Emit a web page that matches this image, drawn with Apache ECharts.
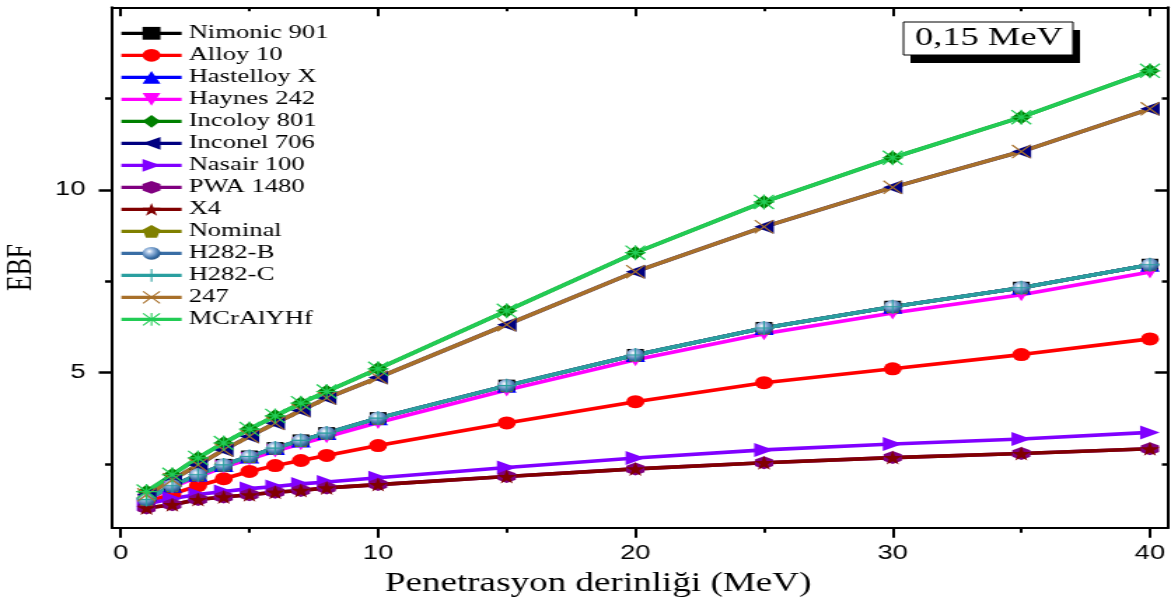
<!DOCTYPE html>
<html><head><meta charset="utf-8">
<script src="https://cdn.jsdelivr.net/npm/echarts@6/dist/echarts.min.js"></script>
<style>
html,body{margin:0;padding:0;background:#fff;overflow:hidden}
#wrap{width:1171px;height:605px;overflow:hidden;background:#fff}
#chart{width:836px;height:605px;transform:scaleX(1.40072);transform-origin:0 0}
</style></head><body><div id="wrap"><div id="chart"></div></div>
<script>
// ---- data ----
const xValues = [1, 2, 3, 4, 5, 6, 7, 8, 10, 15, 20, 25, 30, 35, 40];
const nimonic901  = [1.52, 1.90, 2.20, 2.47, 2.70, 2.93, 3.14, 3.34, 3.75, 4.64, 5.48, 6.22, 6.80, 7.32, 7.95];
const alloy10     = [1.46, 1.67, 1.90, 2.09, 2.29, 2.45, 2.59, 2.73, 3.00, 3.62, 4.20, 4.72, 5.10, 5.49, 5.92];
const hastelloyX  = [1.52, 1.90, 2.20, 2.47, 2.70, 2.93, 3.14, 3.34, 3.75, 4.64, 5.48, 6.22, 6.80, 7.32, 7.95];
const haynes242   = [1.50, 1.86, 2.15, 2.41, 2.63, 2.85, 3.05, 3.24, 3.63, 4.52, 5.35, 6.06, 6.63, 7.13, 7.75];
const incoloy801  = [1.74, 2.20, 2.66, 3.07, 3.45, 3.81, 4.16, 4.48, 5.10, 6.69, 8.28, 9.67, 10.88, 11.99, 13.26];
const inconel706  = [1.65, 2.06, 2.47, 2.88, 3.25, 3.61, 3.96, 4.30, 4.86, 6.31, 7.76, 8.99, 10.07, 11.05, 12.22];
const nasair100   = [1.40, 1.55, 1.66, 1.74, 1.82, 1.88, 1.95, 2.00, 2.12, 2.40, 2.66, 2.88, 3.04, 3.18, 3.36];
const pwa1480     = [1.29, 1.38, 1.52, 1.59, 1.65, 1.72, 1.77, 1.84, 1.93, 2.15, 2.36, 2.53, 2.67, 2.78, 2.91];
const x4          = [1.29, 1.38, 1.52, 1.59, 1.65, 1.72, 1.77, 1.84, 1.93, 2.15, 2.36, 2.53, 2.67, 2.78, 2.91];
const nominal     = [1.52, 1.90, 2.20, 2.47, 2.70, 2.93, 3.14, 3.34, 3.75, 4.64, 5.48, 6.22, 6.80, 7.32, 7.95];
const h282B       = [1.52, 1.90, 2.20, 2.47, 2.70, 2.93, 3.14, 3.34, 3.75, 4.64, 5.48, 6.22, 6.80, 7.32, 7.95];
const h282C       = [1.52, 1.90, 2.20, 2.47, 2.70, 2.93, 3.14, 3.34, 3.75, 4.64, 5.48, 6.22, 6.80, 7.32, 7.95];
const alloy247    = [1.65, 2.06, 2.47, 2.88, 3.25, 3.61, 3.96, 4.30, 4.86, 6.31, 7.76, 8.99, 10.07, 11.05, 12.22];
const mcralyhf    = [1.74, 2.20, 2.66, 3.07, 3.45, 3.81, 4.16, 4.48, 5.10, 6.69, 8.28, 9.67, 10.88, 11.99, 13.26];

const xMajorTicks = [0, 10, 20, 30, 40];
const xMinorTicks = [5, 15, 25, 35];
const yMajorTicks = [5, 10];
const yMinorTicks = [2.5, 7.5, 12.5];
const X_MIN = -0.34, X_MAX = 40.71, Y_MIN = 0.75, Y_MAX = 15;

// ---- symbols ----
const SYM = {
  down: 'path://M0,0 L10,0 L5,10 Z',
  left: 'path://M0,5 L10,0 L10,10 Z',
  right: 'path://M0,0 L10,5 L0,10 Z',
  hex: 'path://M5,0 L9.33,2.5 L9.33,7.5 L5,10 L0.67,7.5 L0.67,2.5 Z',
  star: 'path://M5,0 L6.18,3.62 L10,3.62 L6.91,5.86 L8.09,9.51 L5,7.27 L1.91,9.51 L3.09,5.86 L0,3.62 L3.82,3.62 Z',
  pent: 'path://M5,0 L10,3.8 L8.1,10 L1.9,10 L0,3.8 Z',
  plus: 'path://M4.6,0 L5.4,0 L5.4,4.6 L10,4.6 L10,5.4 L5.4,5.4 L5.4,10 L4.6,10 L4.6,5.4 L0,5.4 L0,4.6 L4.6,4.6 Z',
  cross: 'path://M0,0.6 L0.6,0 L5,4.4 L9.4,0 L10,0.6 L5.6,5 L10,9.4 L9.4,10 L5,5.6 L0.6,10 L0,9.4 L4.4,5 Z',
  aster: 'path://M4.6,0 L5.4,0 L5.4,10 L4.6,10 Z M0,4.6 L10,4.6 L10,5.4 L0,5.4 Z M0,0.6 L0.6,0 L10,9.4 L9.4,10 Z M0.6,10 L0,9.4 L9.4,0 L10,0.6 Z'
};

function ser(name, vals, color, symbol, size, itemColor) {
  return {
    name, type: 'line', xAxisIndex: 0, yAxisIndex: 0,
    data: xValues.map((x, i) => [x, vals[i]]),
    symbol, symbolSize: size, showAllSymbol: true,
    lineStyle: { color, width: 3.6 },
    itemStyle: { color: itemColor || color, borderWidth: 0 },
    emphasis: { disabled: true }
  };
}

const sphere = {
  type: 'radial', x: 0.38, y: 0.35, r: 0.7,
  colorStops: [
    { offset: 0, color: '#ffffff' },
    { offset: 0.3, color: '#9dbbe0' },
    { offset: 0.75, color: '#3a6ea5' },
    { offset: 1, color: '#24507f' }
  ]
};

const series = [
  ser('Nimonic 901', nimonic901, '#000000', 'rect', 12),
  ser('Alloy 10', alloy10, '#ff0000', 'circle', 13),
  ser('Hastelloy X', hastelloyX, '#0000ff', 'triangle', 14),
  ser('Haynes 242', haynes242, '#ff00ff', SYM.down, 13),
  ser('Incoloy 801', incoloy801, '#008000', 'diamond', 14),
  ser('Inconel 706', inconel706, '#000080', SYM.left, 14),
  ser('Nasair 100', nasair100, '#8000ff', SYM.right, 14),
  ser('PWA 1480', pwa1480, '#800080', SYM.hex, 13),
  ser('X4', x4, '#800000', SYM.star, 14),
  ser('Nominal', nominal, '#808000', SYM.pent, 13),
  ser('H282-B', h282B, '#3a6ea5', 'circle', 13, sphere),
  ser('H282-C', h282C, '#2a9fa0', SYM.plus, 14),
  ser('247', alloy247, '#a8702a', SYM.cross, 14),
  ser('MCrAlYHf', mcralyhf, '#22cc55', SYM.aster, 15)
];

const tickFont = { color: '#000', fontFamily: 'Liberation Sans, Arial, sans-serif', fontSize: 19.5 };

function xAx(position, ticks, len, inside, showLine, labels) {
  return {
    type: 'value', position, min: X_MIN, max: X_MAX,
    axisLine: { show: showLine, onZero: false, lineStyle: { color: '#000', width: 2.2 } },
    axisTick: { show: true, inside, length: len, customValues: ticks, lineStyle: { color: '#000', width: 2 } },
    axisLabel: labels ? Object.assign({ show: true, customValues: ticks, margin: 16 }, tickFont) : { show: false },
    splitLine: { show: false }
  };
}
function yAx(position, ticks, len, inside, showLine, labels) {
  return {
    type: 'value', position, min: Y_MIN, max: Y_MAX,
    axisLine: { show: showLine, onZero: false, lineStyle: { color: '#000', width: 2 } },
    axisTick: { show: true, inside, length: len, customValues: ticks, lineStyle: { color: '#000', width: 2.5 } },
    axisLabel: labels ? Object.assign({ show: true, customValues: ticks, margin: 19 }, tickFont) : { show: false },
    splitLine: { show: false }
  };
}

const xAxes = [
  xAx('bottom', xMajorTicks, 10, false, true, true),
  xAx('bottom', xMinorTicks, 5, false, false, false),
  xAx('top', xMajorTicks, 9, true, true, false),
  xAx('top', xMinorTicks, 4, true, false, false)
];
Object.assign(xAxes[0], {
  name: 'Penetrasyon derinliği (MeV)', nameLocation: 'middle', nameGap: 43,
  nameTextStyle: { color: '#000', fontFamily: 'Liberation Serif, Times New Roman, serif', fontSize: 26.5, padding: [0, 60, 0, 0] }
});
const yAxes = [
  yAx('left', yMajorTicks, 9.5, false, true, true),
  yAx('left', yMinorTicks, 5, false, false, false),
  yAx('right', yMajorTicks, 9.5, true, true, false),
  yAx('right', yMinorTicks, 4.5, true, false, false)
];
Object.assign(yAxes[0], {
  name: 'EBF', nameLocation: 'middle', nameGap: 48,
  nameTextStyle: { color: '#000', fontFamily: 'Liberation Serif, Times New Roman, serif', fontSize: 25.5 }
});

const chart = echarts.init(document.getElementById('chart'));
chart.setOption({
  animation: false,
  backgroundColor: '#fff',
  grid: { left: 80, right: 2, top: 7.3, bottom: 77.3, containLabel: false, outerBoundsMode: 'none' },
  xAxis: xAxes,
  yAxis: yAxes,
  legend: {
    orient: 'vertical', left: 85, top: 22.3, padding: 0,
    itemWidth: 43, itemHeight: 16, itemGap: 0,
    lineStyle: { width: 3.3 },
    textStyle: { color: '#000', fontFamily: 'Liberation Serif, Times New Roman, serif', fontSize: 19, lineHeight: 22 },
    data: series.map(s => s.name)
  },
  graphic: [
    { type: 'rect', shape: { x: 650, y: 30, width: 121, height: 33 }, style: { fill: '#000' }, z: 100 },
    { type: 'rect', shape: { x: 645, y: 22, width: 121, height: 33 }, style: { fill: '#fff', stroke: '#000', lineWidth: 1 }, z: 101 },
    { type: 'text', x: 706, y: 38.5, z: 102,
      style: { text: '0,15 MeV', fill: '#000', fontSize: 26, fontFamily: 'Liberation Serif, Times New Roman, serif', align: 'center', verticalAlign: 'middle' } }
  ],
  series
});
</script></body></html>
